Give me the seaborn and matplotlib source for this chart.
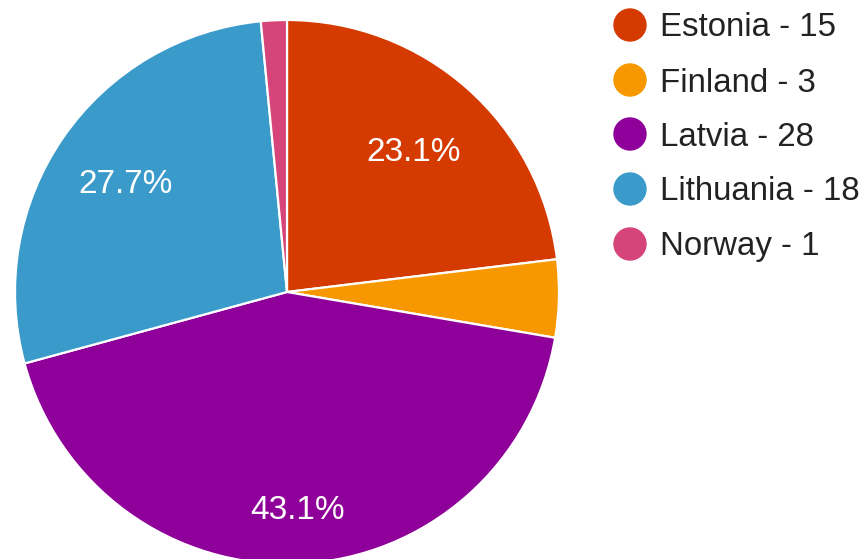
import matplotlib
matplotlib.use("Agg")
import numpy as np
import matplotlib.pyplot as plt
from matplotlib.patches import Circle
import seaborn as sns

countries = ["Estonia", "Finland", "Latvia", "Lithuania", "Norway"]
counts = [15, 3, 28, 18, 1]
colors = ["#D53A00", "#F79800", "#8E0099", "#3A9BCB", "#D6457A"]

sns.set_theme(style="white")
plt.rcParams["font.family"] = ["Liberation Sans", "DejaVu Sans"]

W, H = 867, 559
fig = plt.figure(figsize=(W / 100, H / 100), dpi=100)

cx, cy, R = 287, 292, 272
ax = fig.add_axes([(cx - R) / W, (H - cy - R) / H, 2 * R / W, 2 * R / H])
total = sum(counts)

wedges, _ = ax.pie(
    counts, colors=sns.color_palette(colors), startangle=90, counterclock=False,
    radius=1.0, wedgeprops=dict(edgecolor="white", linewidth=1.6),
)
ax.set_xlim(-1, 1)
ax.set_ylim(-1, 1)
ax.set_aspect("equal")
for w in wedges:
    w.set_clip_on(False)

label_dist = {"Estonia": 0.70, "Latvia": 0.79, "Lithuania": 0.72}
for name, n, w in zip(countries, counts, wedges):
    p = 100 * n / total
    if p < 10:
        continue
    ang = np.deg2rad((w.theta1 + w.theta2) / 2)
    d = label_dist.get(name, 0.7)
    ax.text(d * np.cos(ang), d * np.sin(ang), f"{p:.1f}%", color="white",
            fontsize=24, ha="center", va="center_baseline")

# legend
lax = fig.add_axes([0, 0, 1, 1])
lax.set_xlim(0, W)
lax.set_ylim(H, 0)
lax.axis("off")
lax.patch.set_alpha(0)
ys = [25, 80, 134, 189, 244]
for name, n, c, y in zip(countries, counts, colors, ys):
    lax.add_patch(Circle((630, y), 16, color=c))
    lax.text(660, y + 3, f"{name} - {n}", fontsize=23.8, color="#222222",
             va="center", ha="left")

fig.savefig("out.png", dpi=100)
